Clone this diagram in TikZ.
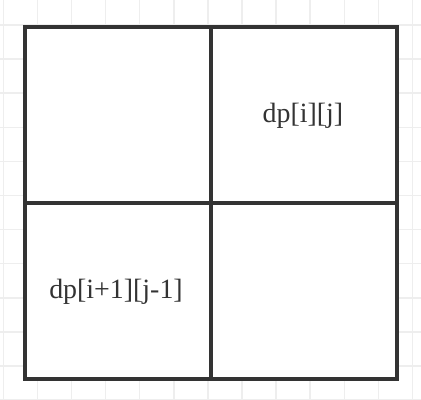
\documentclass[tikz,border=0pt]{standalone}
\usepackage{fontspec}
\setmainfont{Liberation Serif}
\definecolor{GridGray}{RGB}{238,238,238}
\definecolor{TableDark}{RGB}{51,51,51}

\tikzstyle{gridline} = [line width=1.5bp, GridGray]
\tikzstyle{tableline} = [line width=4bp, TableDark]
\tikzstyle{celltext} = [font=\fontsize{28}{32}\selectfont, text=TableDark]

\begin{document}
\begin{tikzpicture}[x=1bp, y=-1bp]
    \useasboundingbox (0,0) rectangle (421,400);
    \fill[white] (0,0) rectangle (421,400);

    % Background grid
    \foreach \i in {0,...,12} {
        \draw[gridline] (3.3+34.1*\i, 0) -- (3.3+34.1*\i, 400);
    }
    \foreach \j in {0,...,11} {
        \draw[gridline] (0, 25+34.1*\j) -- (421, 25+34.1*\j);
    }

    % Table
    \filldraw[tableline, fill=white] (25,27) rectangle (397,379);
    \draw[tableline] (211,27) -- (211,379);
    \draw[tableline] (25,203) -- (397,203);

    % Cells
    \node[celltext] (dpij) at (303,116) {dp[i][j]};
    \node[celltext] (dpnext) at (116,292) {dp[i+1][j-1]};
\end{tikzpicture}
\end{document}
